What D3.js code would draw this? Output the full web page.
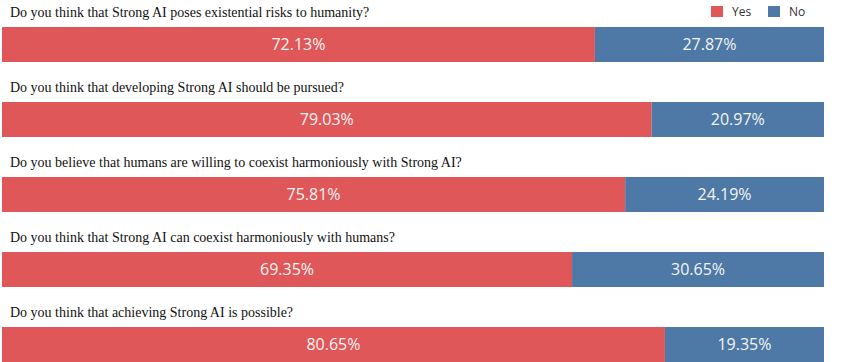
<!DOCTYPE html>
<html>
<head>
<meta charset="utf-8">
<script src="https://cdn.jsdelivr.net/npm/d3@7/dist/d3.min.js"></script>
<style>
  body { margin: 0; background: #fff; }
</style>
</head>
<body>
<div id="chart"></div>
<script>
var questions = [
    "Do you think that Strong AI poses existential risks to humanity?",
    "Do you think that developing Strong AI should be pursued?",
    "Do you believe that humans are willing to coexist harmoniously with Strong AI?",
    "Do you think that Strong AI can coexist harmoniously with humans?",
    "Do you think that achieving Strong AI is possible?"
];
var yesValues = [72.13, 79.03, 75.81, 69.35, 80.65];
var noValues = [27.87, 20.97, 24.19, 30.65, 19.35];
var seriesNames = ["Yes", "No"];
var colors = ["#e05759", "#4e78a6"];

var width = 865, height = 362;
var barLeft = 2, barRight = 824;
var barHeight = 35;

var svg = d3.select("#chart").append("svg")
    .attr("width", width)
    .attr("height", height);

var x = d3.scaleLinear([0, 100], [barLeft, barRight]);
var y = d3.scaleBand(d3.range(questions.length), [27, 27 + 75 * questions.length]);

var rows = svg.selectAll("g.row")
    .data(questions)
    .enter()
    .append("g")
    .attr("class", "row")
    .attr("transform", function (d, i) { return `translate(0,${y(i)})`; });

rows.append("text")
    .attr("x", 10)
    .attr("y", -10)
    .attr("font-family", "'Liberation Serif', 'Times New Roman', serif")
    .attr("font-size", "14px")
    .attr("fill", "#111")
    .text(function (d) { return d; });

// yes segment
rows.append("rect")
    .attr("x", x(0))
    .attr("y", 0)
    .attr("width", function (d, i) { return x(yesValues[i]) - x(0); })
    .attr("height", barHeight)
    .attr("fill", colors[0]);

// no segment
rows.append("rect")
    .attr("x", function (d, i) { return x(yesValues[i]); })
    .attr("y", 0)
    .attr("width", function (d, i) { return x(yesValues[i] + noValues[i]) - x(yesValues[i]); })
    .attr("height", barHeight)
    .attr("fill", colors[1]);

var labelStyle = function (sel) {
    sel.attr("y", barHeight / 2)
        .attr("dy", "0.36em")
        .attr("text-anchor", "middle")
        .attr("font-family", "'Open Sans', 'Noto Sans', sans-serif")
        .attr("font-size", "16px")
        .attr("fill", "#f4f4f4");
};

rows.append("text")
    .attr("x", function (d, i) { return x(yesValues[i] / 2); })
    .call(labelStyle)
    .text(function (d, i) { return yesValues[i].toFixed(2) + "%"; });

rows.append("text")
    .attr("x", function (d, i) { return x(yesValues[i] + noValues[i] / 2); })
    .call(labelStyle)
    .text(function (d, i) { return noValues[i].toFixed(2) + "%"; });

// legend
var legend = svg.append("g")
    .selectAll("g")
    .data(seriesNames)
    .enter()
    .append("g")
    .attr("transform", function (d, i) { return `translate(${711 + i * 57},6)`; });

legend.append("rect")
    .attr("width", 12)
    .attr("height", 11)
    .attr("fill", function (d, i) { return colors[i]; });

legend.append("text")
    .attr("x", 21)
    .attr("y", 10)
    .attr("font-family", "'Open Sans', 'Noto Sans', sans-serif")
    .attr("font-size", "12px")
    .attr("fill", "#333")
    .text(function (d) { return d; });
</script>
</body>
</html>
